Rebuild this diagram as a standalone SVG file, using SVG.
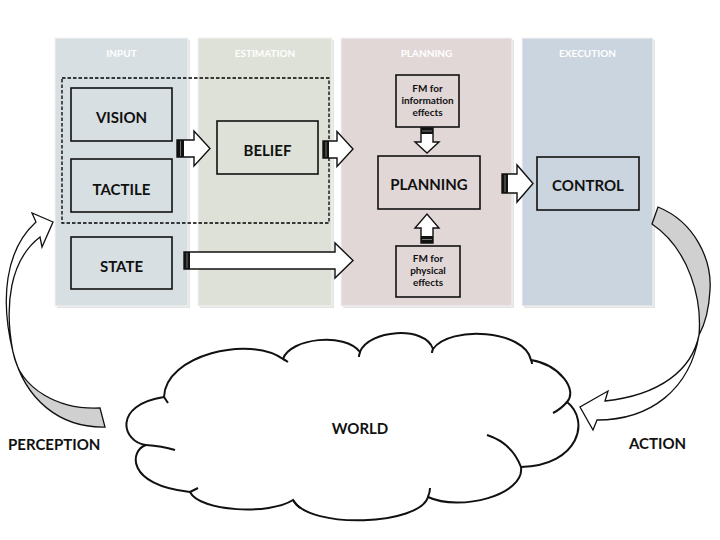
<svg xmlns="http://www.w3.org/2000/svg" width="720" height="540" viewBox="0 0 720 540">
<defs>
<style>
.panel{stroke:#f4f4f4;stroke-width:1}
.shadow{fill:#e4e4e4}
.hdr{font-family:Lato,"Liberation Sans",sans-serif;font-weight:bold;font-size:10px;fill:#ffffff;text-anchor:middle}
.box{fill:none;stroke:#111;stroke-width:1.6}
.lbl{font-family:Lato,"Liberation Sans",sans-serif;font-weight:bold;font-size:15px;fill:#111;text-anchor:middle}
.sm{font-family:Lato,"Liberation Sans",sans-serif;font-weight:bold;font-size:10px;fill:#111;text-anchor:middle}
.arr{fill:#ffffff;stroke:#111;stroke-width:1.4;stroke-linejoin:miter}
.stripe{fill:#111}
.sline{stroke:#777;stroke-width:1}
.curv{stroke:#111;stroke-width:1.3;stroke-linejoin:miter}
.cloud{fill:#ffffff;stroke:#111;stroke-width:2}
.hook{fill:none;stroke:#111;stroke-width:2}
</style>
</defs>
<rect width="720" height="540" fill="#ffffff"/>

<g id="panels">
<rect class="shadow" x="57" y="40" width="133" height="268"/>
<rect class="panel" x="55" y="38" width="133" height="268" fill="#d7dfe2"/>
<rect class="shadow" x="200" y="40" width="134" height="268"/>
<rect class="panel" x="198" y="38" width="134" height="268" fill="#dee1d7"/>
<rect class="shadow" x="343" y="40" width="171" height="268"/>
<rect class="panel" x="341" y="38" width="171" height="268" fill="#e1d7d7"/>
<rect class="shadow" x="524" y="40" width="131" height="268"/>
<rect class="panel" x="522" y="38" width="131" height="268" fill="#cbd5e0"/>
<text class="hdr" x="121.5" y="57">INPUT</text>
<text class="hdr" x="265" y="57">ESTIMATION</text>
<text class="hdr" x="426.5" y="57">PLANNING</text>
<text class="hdr" x="587.5" y="57">EXECUTION</text>
</g>

<g id="group-sensing">
<rect x="62" y="78" width="267" height="145" fill="none" stroke="#000" stroke-width="1.3" stroke-dasharray="3.5,2"/>
</g>

<g id="vision">
<rect class="box" x="71" y="88" width="101" height="53"/>
<text class="lbl" x="121.5" y="123">VISION</text>
</g>
<g id="tactile">
<rect class="box" x="71" y="159" width="101" height="53"/>
<text class="lbl" x="121.5" y="195">TACTILE</text>
</g>
<g id="state">
<rect class="box" x="71" y="237" width="101" height="52"/>
<text class="lbl" x="121.5" y="272">STATE</text>
</g>
<g id="belief">
<rect class="box" x="217" y="121" width="101" height="53"/>
<text class="lbl" x="267.5" y="156">BELIEF</text>
</g>
<g id="fm-info">
<rect class="box" x="396" y="75" width="63" height="52"/>
<text class="sm" x="427.5" y="92">FM for</text>
<text class="sm" x="427.5" y="104">information</text>
<text class="sm" x="427.5" y="116">effects</text>
</g>
<g id="planning">
<rect class="box" x="378" y="156" width="102" height="53"/>
<text class="lbl" x="429" y="190">PLANNING</text>
</g>
<g id="fm-phys">
<rect class="box" x="396" y="246" width="64" height="51"/>
<text class="sm" x="428" y="262">FM for</text>
<text class="sm" x="428" y="274">physical</text>
<text class="sm" x="428" y="286">effects</text>
</g>
<g id="control">
<rect class="box" x="537" y="157" width="102" height="53"/>
<text class="lbl" x="588" y="191">CONTROL</text>
</g>
<g id="world">
<path class="cloud" d="M146,445 C122,442 112,405 164,397 C165,355 250,335 283,359 C290,338 345,332 360,352 C368,330 425,325 433,349 C450,325 525,330 531,360 C560,365 578,390 567,402 C590,420 580,465 521,467 C525,495 460,512 428,497 C420,525 310,530 293,500 C270,515 200,512 190,492 C125,485 130,450 146,445 Z"/>
<path class="hook" d="M146,445 Q162,446 175,450"/>
<path class="hook" d="M164,397 Q166,400 168,403"/>
<path class="hook" d="M283,359 Q285,360 288,362"/>
<path class="hook" d="M360,352 Q359,355 359,357"/>
<path class="hook" d="M433,349 Q432,351 432,353"/>
<path class="hook" d="M531,360 Q532,362 532,364"/>
<path class="hook" d="M567,402 Q561,409 553,413"/>
<path class="hook" d="M487,435 Q512,443 521,467"/>
<path class="hook" d="M428,497 Q430,492 430,488"/>
<path class="hook" d="M293,500 Q296,505 300,508"/>
<path class="hook" d="M190,492 Q194,490 198,488"/>
<text class="lbl" x="360" y="434">WORLD</text>
</g>

<g id="connectors">
<polygon class="arr" points="177,140 194,140 194,131 210,148.5 194,166 194,157 177,157"/>
<rect class="stripe" x="177" y="140" width="7" height="17"/>
<line class="sline" x1="180.5" y1="141" x2="180.5" y2="156"/>
<polygon class="arr" points="323,141 337,141 337,131.5 353,149 337,166.5 337,158 323,158"/>
<rect class="stripe" x="323" y="141" width="6" height="17"/>
<line class="sline" x1="326" y1="142" x2="326" y2="157"/>
<polygon class="arr" points="184,252 335,252 335,243 353,260.5 335,278 335,269 184,269"/>
<rect class="stripe" x="184" y="252" width="6" height="17"/>
<line class="sline" x1="187" y1="253" x2="187" y2="268"/>
<polygon class="arr" points="502,174 517,174 517,165 533,183.5 517,202 517,193 502,193"/>
<rect class="stripe" x="502" y="174" width="6" height="19"/>
<line class="sline" x1="505" y1="175" x2="505" y2="192"/>
<polygon class="arr" points="421,128 433,128 433,142 439,142 427,153 415,142 421,142"/>
<rect class="stripe" x="421" y="128" width="12" height="6"/>
<line class="sline" x1="422" y1="131" x2="432" y2="131"/>
<polygon class="arr" points="421,243 433,243 433,228 439,228 427,214 415,228 421,228"/>
<rect class="stripe" x="421" y="236" width="12" height="7"/>
<line class="sline" x1="422" y1="239.5" x2="432" y2="239.5"/>
<path class="curv" fill="#d0d0d0" d="M652,224 L658,207 C695,222 712,260 710,290 C709,310 705,324 699,335 C702,300 690,250 652,224 Z"/>
<path class="curv" fill="#ffffff" d="M699,335 C692,370 660,395 605,401 L608,391 L580,407 L593,430 L597,420 C650,420 690,390 699,335 Z"/>
<path class="curv" fill="#d0d0d0" d="M100,408 L105,427 C60,428 25,400 13,352 C20,390 60,410 100,408 Z"/>
<path class="curv" fill="#ffffff" d="M13,352 C0,300 5,250 36,222 L32,213 L53,222 L42,247 L40,237 C10,260 4,305 13,352 Z"/>
</g>

<g id="labels">
<text class="lbl" x="8" y="450" style="text-anchor:start">PERCEPTION</text>
<text class="lbl" x="629" y="449" style="text-anchor:start">ACTION</text>
</g>
</svg>
